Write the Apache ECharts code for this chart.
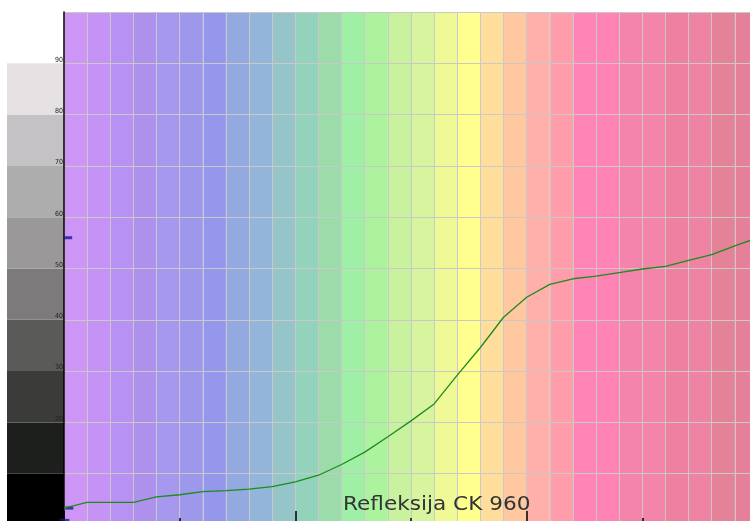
<!DOCTYPE html>
<html>
<head>
<meta charset="utf-8">
<script src="https://cdn.jsdelivr.net/npm/echarts@6/dist/echarts.min.js"></script>
<style>html,body{margin:0;padding:0;background:#fff}#c{width:750px;height:521px}</style>
</head>
<body>
<div id="c"></div>
<script>
// wavelength (nm) and reflectance (%)
const wavelengths = [400,410,420,430,440,450,460,470,480,490,500,510,520,530,540,550,560,570,580,590,600,610,620,630,640,650,660,670,680,690,700];
const reflectance = [3.3,4.4,4.4,4.4,5.5,5.9,6.5,6.7,7.0,7.5,8.4,9.7,11.8,14.2,17.2,20.3,23.6,29.2,34.6,40.5,44.4,46.9,48.0,48.5,49.2,49.9,50.4,51.6,52.7,54.4,56.0];
// spectral background bands (start nm, 10 nm wide)
const bandStarts = [400,410,420,430,440,450,460,470,480,490,500,510,520,530,540,550,560,570,580,590,600,610,620,630,640,650,660,670,680,690];
const bandColors = ['#cd95f5','#c593f6','#b792f4','#ae91ec','#a598ee','#9d98ec','#9497ec','#94a9df','#93b5d9','#95c5c8','#93d3bc','#9cdcab','#9ff0a6','#adf39e','#c8f29e','#d6f59e','#effa96','#ffff8f','#ffdd9b','#ffc8a0','#ffb0ab','#ff9dab','#ff85b7','#ff83b5','#f584ac','#f484a9','#ee80a0','#ef83a3','#e48298','#e4809a'];
// grey scale strip (lower bound of each 10% step)
const greyStarts = [0,10,20,30,40,50,60,70,80];
const greyColors = ['#000000','#1c1f1c','#3b3c3a','#5a5b59','#7c7a7b','#9a9899','#adadad','#c4c2c4','#e6e2e4'];
// start / end value markers
const markers = [[401.8, 56.0], [402.3, 3.3], [400.6, 0.9]];
const titleText = 'Refleksija CK 960';

const chart = echarts.init(document.getElementById('c'), null, {renderer: 'canvas'});
const lineData = wavelengths.map((w, i) => [w, reflectance[i]]);

chart.setOption({
  animation: false,
  backgroundColor: '#ffffff',
  graphic: [{
    type: 'text', x: 343, y: 495, scaleX: 1.08, z: 100,
    style: {text: titleText, font: 'normal 20px "DejaVu Sans"', fill: '#333333', verticalAlign: 'top', align: 'left'}
  }],
  grid: [
    {left: 64, top: 12, width: 694, height: 513, outerBoundsMode: 'none', containLabel: false},
    {left: 7, top: 12, width: 57, height: 513, outerBoundsMode: 'none', containLabel: false}
  ],
  xAxis: [
    {type: 'value', gridIndex: 0, min: 400, max: 700, interval: 10,
     axisLine: {show: false}, axisTick: {show: false}, axisLabel: {show: false},
     splitLine: {show: true, lineStyle: {color: '#c9c9c9', width: 1}}},
    {type: 'value', gridIndex: 0, position: 'bottom', min: 400, max: 700, interval: 100,
     axisLine: {show: false}, axisLabel: {show: false},
     axisTick: {show: true, inside: true, length: 14, lineStyle: {color: '#000', width: 1.5}},
     minorTick: {show: true, splitNumber: 2, length: 7, lineStyle: {color: '#000', width: 1.5}},
     splitLine: {show: false}},
    {type: 'value', gridIndex: 1, min: 0, max: 1, show: false}
  ],
  yAxis: [
    {type: 'value', gridIndex: 0, min: 0, max: 100, interval: 10,
     axisLine: {show: true, lineStyle: {color: '#000', width: 1.5}},
     axisTick: {show: false},
     axisLabel: {show: true, fontSize: 7, color: '#222', margin: 1, verticalAlign: 'bottom', showMaxLabel: false, fontFamily: 'DejaVu Sans Condensed'},
     splitLine: {show: true, lineStyle: {color: '#c9c9c9', width: 1}}},
    {type: 'value', gridIndex: 1, min: 0, max: 100, show: false}
  ],
  series: [
    {
      type: 'custom', xAxisIndex: 0, yAxisIndex: 0, z: -1, silent: true,
      data: bandStarts.map((s, i) => [s, i]),
      renderItem: function (params, api) {
        const s = api.value(0);
        const p0 = api.coord([s, 100]);
        const p1 = api.coord([s + 10, 0]);
        return {type: 'rect', shape: {x: p0[0], y: p0[1], width: p1[0] - p0[0], height: p1[1] - p0[1]},
                style: {fill: bandColors[api.value(1)]}};
      }
    },
    {
      type: 'custom', xAxisIndex: 2, yAxisIndex: 1, z: -1, silent: true,
      data: greyStarts.map((s, i) => [s, i]),
      renderItem: function (params, api) {
        const s = api.value(0);
        const p0 = api.coord([0, s + 10]);
        const p1 = api.coord([1, s]);
        return {type: 'rect', shape: {x: p0[0], y: p0[1], width: p1[0] - p0[0], height: p1[1] - p0[1]},
                style: {fill: greyColors[api.value(1)]}};
      }
    },
    {
      type: 'line', xAxisIndex: 0, yAxisIndex: 0, data: lineData,
      showSymbol: false, symbol: 'none',
      lineStyle: {color: '#1c8c1c', width: 1.3}
    },
    {
      type: 'scatter', xAxisIndex: 0, yAxisIndex: 0, data: markers,
      symbol: 'rect', symbolSize: [8, 3],
      itemStyle: {color: '#1a1a8c'}
    }
  ]
});
</script>
</body>
</html>
